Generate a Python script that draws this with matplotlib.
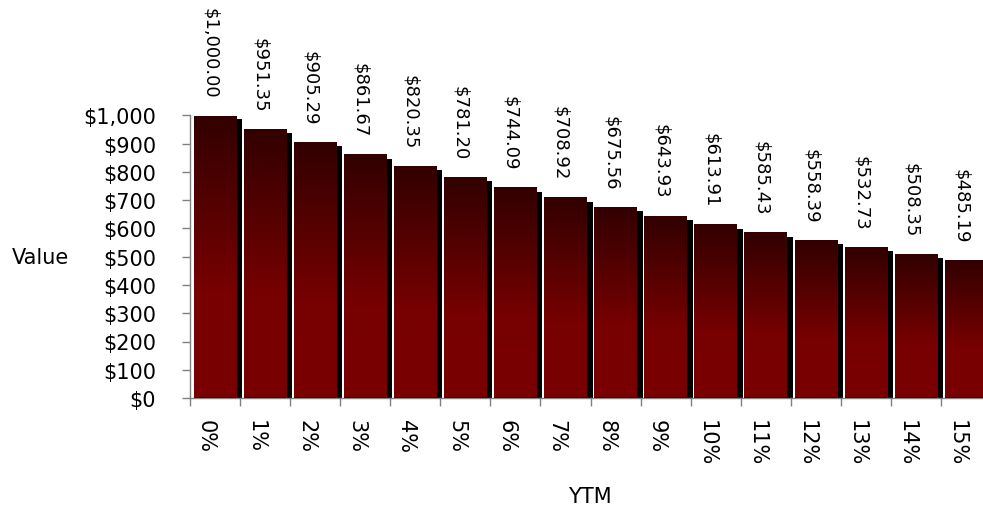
import numpy as np
import matplotlib

matplotlib.use("Agg")

import matplotlib.pyplot as plt
from matplotlib.colors import LinearSegmentedColormap


ytm_labels = ["0%", "1%", "2%", "3%", "4%", "5%", "6%", "7%",
              "8%", "9%", "10%", "11%", "12%", "13%", "14%", "15%"]
bond_values = [1000.00, 951.35, 905.29, 861.67, 820.35, 781.20, 744.09, 708.92,
               675.56, 643.93, 613.91, 585.43, 558.39, 532.73, 508.35, 485.19]
y_ticks = [0, 100, 200, 300, 400, 500, 600, 700, 800, 900, 1000]

W, H = 983, 510
fig = plt.figure(figsize=(W / 100, H / 100), dpi=100)
ax = fig.add_axes([190 / W, 111 / H, 801 / W, 282.5 / H])

# gradient: dark on top, red lower down
grad_cmap = LinearSegmentedColormap.from_list(
    "bar_grad",
    [(0.0, "#7a0000"), (0.38, "#770000"), (1.0, "#320000")],
)
grad = np.linspace(0, 1, 256).reshape(-1, 1)

bar_left = 0.075
bar_right = 0.925
shadow_right = 1.04
shadow_drop = 14

for i, v in enumerate(bond_values):
    # black drop shadow behind the bar
    ax.fill_between([i + bar_left + 0.1, i + shadow_right], 0, v - shadow_drop,
                    color="black", linewidth=0, zorder=1)
    ax.imshow(grad, cmap=grad_cmap, origin="lower", aspect="auto",
              extent=[i + bar_left, i + bar_right, 0, v],
              interpolation="bilinear", zorder=2)
    ax.plot([i + bar_left, i + bar_right], [1.5, 1.5], color="#3a0000",
            linewidth=1.2, zorder=3, solid_capstyle="butt")

    ax.annotate(f"${v:,.2f}", xy=(i + 0.5, v), xytext=(-5, 18),
                textcoords="offset pixels", rotation=270,
                ha="center", va="bottom", fontsize=13, annotation_clip=False)

    ax.annotate(ytm_labels[i], xy=(i + 0.5, 0), xycoords=("data", "axes fraction"),
                xytext=(-9, -21), textcoords="offset pixels", rotation=270,
                ha="center", va="top", fontsize=15, annotation_clip=False)

ax.set_xlim(0, len(bond_values))
ax.set_ylim(0, 1000)
ax.set_aspect("auto")

ax.set_xticks(range(len(bond_values) + 1))
ax.set_xticklabels([])
ax.set_yticks(y_ticks)
ax.set_yticklabels([f"${t:,}" for t in y_ticks], fontsize=15)
ax.tick_params(axis="both", direction="out", length=5.5, width=1, color="#808080")
ax.tick_params(axis="y", pad=19)

for side in ["top", "right"]:
    ax.spines[side].set_visible(False)
for side in ["left", "bottom"]:
    ax.spines[side].set_color("#808080")
    ax.spines[side].set_linewidth(1)

fig.text(12 / W, 1 - 258 / H, "Value", fontsize=15, ha="left", va="center")
fig.text(590 / W, 1 - 497 / H, "YTM", fontsize=15, ha="center", va="center")

fig.savefig("out.png", dpi=100)
